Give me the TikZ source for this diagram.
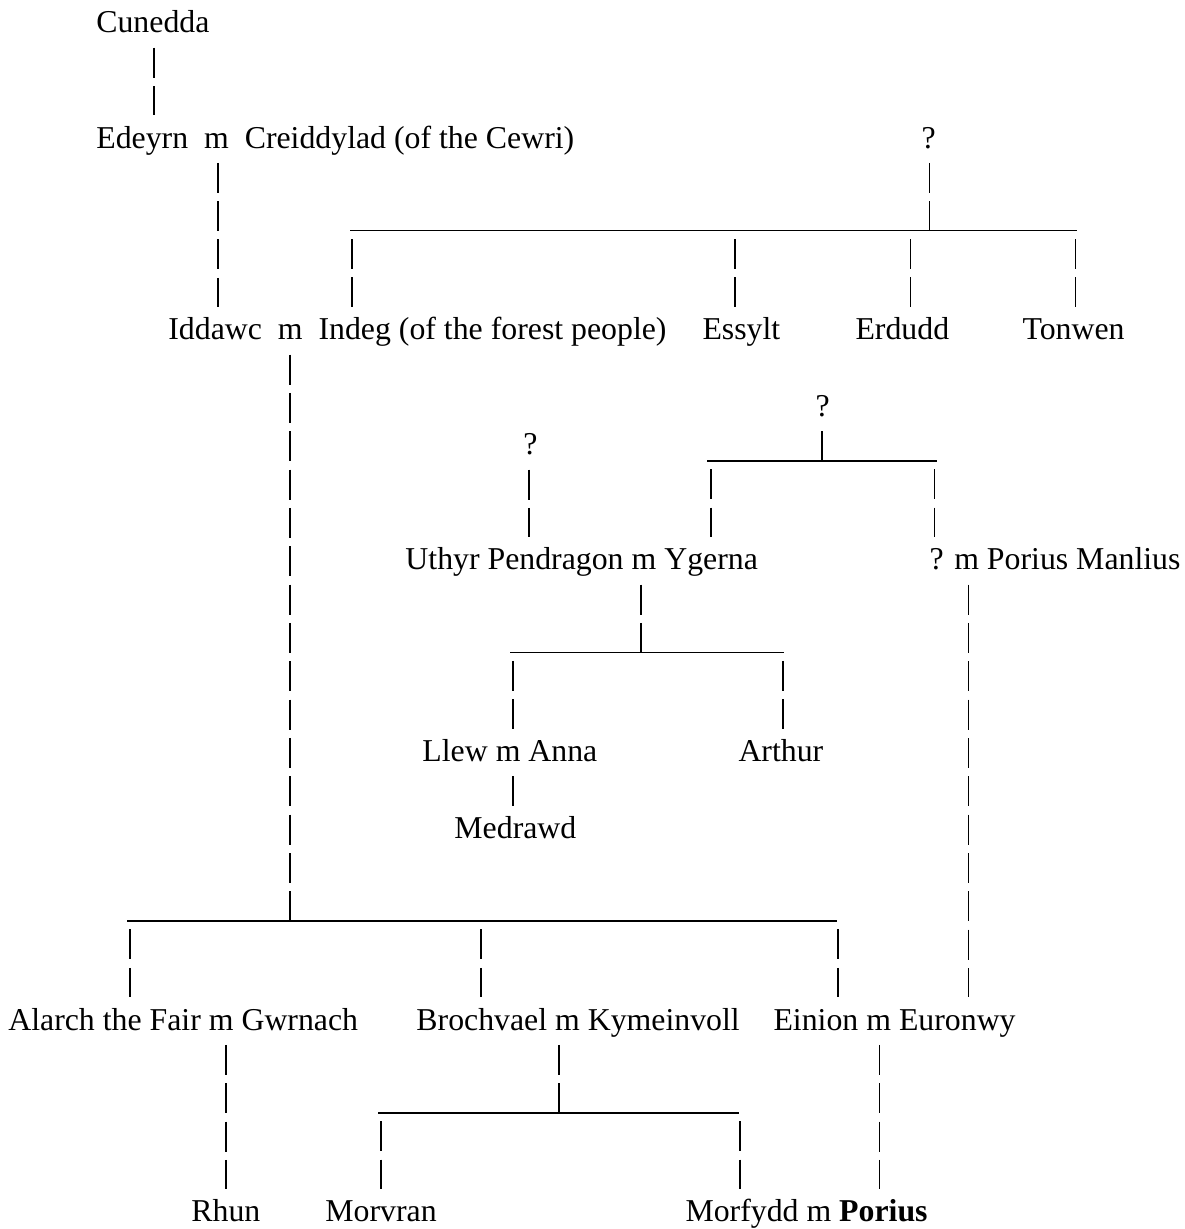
\documentclass[tikz,border=0pt]{standalone}
\usepackage{fontspec}
\setmainfont{Liberation Serif}
\usepackage{tikz}
\tikzset{%
  person/.style={anchor=base west,inner sep=0pt,text height=18.41pt,text depth=8.17pt,
    font=\fontsize{18.1}{22}\selectfont},
  bar/.style={draw,line width=0.8pt,dash pattern=on 17.07pt off 4.75pt},
  rule/.style={draw,line width=0.8pt}
}
\begin{document}
\begin{tikzpicture}[x=0.02cm,y=-0.767cm]
	% page as large as the tree
	\useasboundingbox (0,-0.8605) rectangle (1184,31.186);

	\node[person] (cunedda) at (96,0) {Cunedda};
	\node[person] (edeyrn) at (96,3) {Edeyrn~~m~~Creiddylad (of the Cewri)};
	\node[person] (qa) at (921,3) {?};
	\node[person] (iddawc) at (168,8) {Iddawc~~m~~Indeg (of the forest people)};
	\node[person] (essylt) at (702,8) {Essylt};
	\node[person] (erdudd) at (855,8) {Erdudd};
	\node[person] (tonwen) at (1022,8) {Tonwen};
	\node[person] (qb) at (815,10) {?};
	\node[person] (qc) at (523,11) {?};
	\node[person] (uthyr) at (405,14) {Uthyr Pendragon m Ygerna};
	\node[person] (manlius) at (929,14) {? m Porius Manlius};
	\node[person] (llew) at (422,19) {Llew m Anna};
	\node[person] (arthur) at (738,19) {Arthur};
	\node[person] (medrawd) at (454,21) {Medrawd};
	\node[person] (alarch) at (8,26) {Alarch the Fair m Gwrnach};
	\node[person] (brochvael) at (416,26) {Brochvael m Kymeinvoll};
	\node[person] (einion) at (773,26) {Einion m Euronwy};
	\node[person] (rhun) at (191,31) {Rhun};
	\node[person] (morvran) at (325,31) {Morvran};
	\node[person] (morfydd) at (685,31) {Morfydd m \textbf{Porius}};

	% straight descents
	\foreach \x/\up/\down in {154/cunedda/edeyrn, 218/edeyrn/iddawc, 529/qc/uthyr,
		513/llew/medrawd, 968/manlius/einion, 226/alarch/rhun, 879/einion/morfydd}
		\path[bar] (\up.south -| \x,0) -- (\down.north -| \x,0);

	% sibling rules: joint, rule row
	\coordinate (ja) at (929,5.1565);
	\coordinate (jb) at (822,11.1565);
	\coordinate (jc) at (641,16.1565);
	\coordinate (jd) at (290,23.1565);
	\coordinate (je) at (559,28.1565);

	\path[bar] (qa.south -| ja) -- (ja);
	\path[bar] (qb.south -| jb) -- (jb);
	\path[bar] (uthyr.south -| jc) -- (jc);
	\path[bar] (iddawc.south -| jd) -- (jd);
	\path[bar] (brochvael.south -| je) -- (je);

	\path[rule] (ja -| 350,0) -- (ja -| 1077,0);
	\path[rule] (jb -| 707,0) -- (jb -| 937,0);
	\path[rule] (jc -| 510,0) -- (jc -| 784,0);
	\path[rule] (jd -| 127,0) -- (jd -| 837,0);
	\path[rule] (je -| 378,0) -- (je -| 739,0);

	% children hang just below the rule
	\foreach \j/\x/\kid in {ja/352/iddawc, ja/735/essylt, ja/910/erdudd, ja/1075/tonwen,
		jb/711/uthyr, jb/934/manlius, jc/513/llew, jc/783/arthur,
		jd/130/alarch, jd/481/brochvael, jd/838/einion, je/381/morvran, je/740/morfydd}
		\path[bar] ([yshift=-4.75pt]\j -| \x,0) -- (\kid.north -| \x,0);
\end{tikzpicture}
\end{document}
